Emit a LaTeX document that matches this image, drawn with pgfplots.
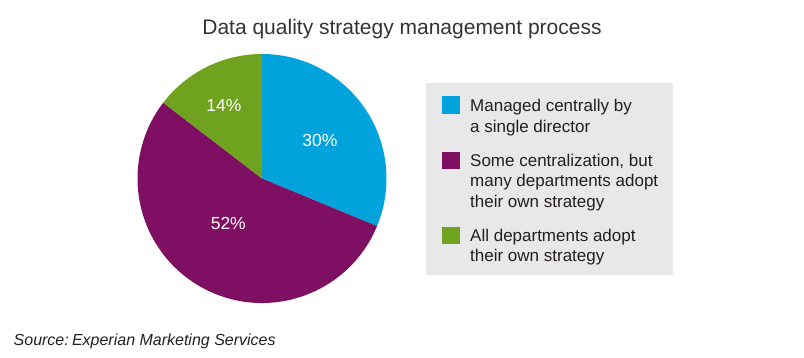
\documentclass[border=0pt]{standalone}
\usepackage{pgfplots}
\pgfplotsset{compat=1.18}
\usepackage{pgfplotstable}
\usepackage{fontspec}
\setmainfont{Liberation Sans}
\definecolor{cblue}{HTML}{00A3DB}
\definecolor{cpurple}{HTML}{7F0F62}
\definecolor{cgreen}{HTML}{6FA31F}
\definecolor{legbg}{HTML}{E8E8E8}
\definecolor{txt}{HTML}{231F20}
\definecolor{ttl}{HTML}{333333}

\pgfplotstableread{
label value
Central 30
Some 52
All 14
}\piedata
\pgfplotstablegetelem{0}{value}\of\piedata \let\va\pgfplotsretval
\pgfplotstablegetelem{1}{value}\of\piedata \let\vb\pgfplotsretval
\pgfplotstablegetelem{2}{value}\of\piedata \let\vc\pgfplotsretval
\pgfmathsetmacro\total{\va+\vb+\vc}
\pgfmathsetmacro\aA{90-\va/\total*360}
\pgfmathsetmacro\aB{\aA-\vb/\total*360}
\pgfmathsetmacro\aC{\aB-\vc/\total*360}
\def\R{124.5}

\begin{document}
\begin{tikzpicture}
\begin{axis}[
  x=1pt, y=1pt,
  xmin=0, xmax=804, ymin=0, ymax=357,
  hide axis, clip=false,
]
% full canvas (invisible) so the picture has the reference's size
\path (axis cs:0,0) rectangle (axis cs:804,357);
% pie slices
\fill[cblue]   (axis cs:262,178.5) -- ++(90:\R pt)  arc[start angle=90,  end angle=\aA, radius=\R pt] -- cycle;
\fill[cpurple] (axis cs:262,178.5) -- ++(\aA:\R pt) arc[start angle=\aA, end angle=\aB, radius=\R pt] -- cycle;
\fill[cgreen]  (axis cs:262,178.5) -- ++(\aB:\R pt) arc[start angle=\aB, end angle=\aC, radius=\R pt] -- cycle;
% percentage labels
\node[anchor=base, text=white, font=\fontsize{17.5}{20}\selectfont] at (axis cs:320,210.3) {\va\%};
\node[anchor=base, text=white, font=\fontsize{17.5}{20}\selectfont] at (axis cs:228.3,128) {\vb\%};
\node[anchor=base, text=white, font=\fontsize{17.5}{20}\selectfont] at (axis cs:224,245.3) {\vc\%};
% title
\node[anchor=base, text=ttl, font=\fontsize{21}{24}\selectfont] at (axis cs:402,322) {Data quality strategy management process};
% legend
\fill[legbg] (axis cs:426,82) rectangle (axis cs:673,274);
\fill[cblue]   (axis cs:442,243) rectangle (axis cs:460,261);
\fill[cpurple] (axis cs:442,188) rectangle (axis cs:460,205);
\fill[cgreen]  (axis cs:442,113) rectangle (axis cs:460,130);
\begin{scope}[every node/.style={anchor=base west, text=txt, inner sep=0pt, font=\fontsize{17}{20}\selectfont}]
\node at (axis cs:470,245) {Managed centrally by};
\node at (axis cs:470,225) {a single director};
\node at (axis cs:470,191) {Some centralization, but};
\node at (axis cs:470,170.5) {many departments adopt};
\node at (axis cs:470,150) {their own strategy};
\node at (axis cs:470,115.3) {All departments adopt};
\node at (axis cs:470,95.3) {their own strategy};
\end{scope}
% source
\node[anchor=base west, inner sep=0pt, text=txt, font=\itshape\fontsize{16}{20}\selectfont] at (axis cs:13.5,12) {Source:\hspace{0.2em}Experian Marketing Services};
\end{axis}
\end{tikzpicture}
\end{document}
